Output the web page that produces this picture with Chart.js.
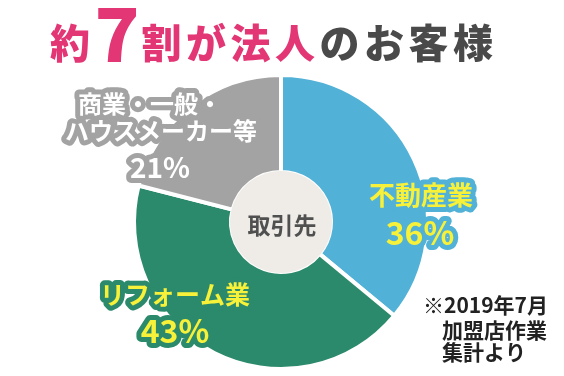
<!DOCTYPE html>
<html>
<head>
<meta charset="utf-8">
<script src="https://cdn.jsdelivr.net/npm/chart.js@4.4.0/dist/chart.umd.min.js"></script>
<style>
  html, body { margin: 0; padding: 0; background: #fff; }
</style>
</head>
<body>
<canvas id="myPieChart" width="564" height="376"></canvas>
<script>
// data
var categories = ['不動産業', 'リフォーム業', '商業・一般・ハウスメーカー等'];
var shares = [36, 43, 21];
var sliceColors = ['#52b1d6', '#2b8a6b', '#a3a3a3'];
var labelLines = [['不動産業'], ['リフォーム業'], ['商業・一般・', 'ハウスメーカー等']];
var labelColors = ['#f7f13a', '#f7f13a', '#ffffff'];
var centerText = '取引先';
var noteLines = ['※2019年7月', '加盟店作業', '集計より'];

// label layout: offsets from pie centre for each line, last one is the percentage
var labelLayout = [
    { lines: [[140, -27, 26]], pct: [139, 11, 32] },
    { lines: [[-106, 72, 25]], pct: [-106, 109, 32] },
    { lines: [[-131, -118, 24], [-120, -91, 24]], pct: [-121, -55, 28] }
];

var JP = '"Noto Sans CJK JP", "Noto Sans", sans-serif';

function haloText(ctx, text, x, y, size, fill, halo) {
    ctx.font = 'bold ' + size + 'px ' + JP;
    ctx.textAlign = 'center';
    ctx.textBaseline = 'middle';
    ctx.lineJoin = 'round';
    ctx.lineWidth = 10;
    ctx.strokeStyle = halo;
    ctx.strokeText(text, x, y);
    ctx.fillStyle = fill;
    ctx.fillText(text, x, y);
}

var decorations = {
    id: 'decorations',
    afterDraw: function(chart) {
        var ctx = chart.ctx;
        var arc = chart.getDatasetMeta(0).data[0];
        var cx = arc.x, cy = arc.y;
        ctx.save();

        // title
        var parts = [
            ['約', 40, '#e33674'], ['7', 74, '#e33674'], ['割', 40, '#e33674'],
            ['が', 40, '#e33674'], ['法', 40, '#e33674'], ['人', 40, '#e33674'],
            ['の', 40, '#4a4a4a'], ['お', 40, '#4a4a4a'], ['客', 40, '#4a4a4a'], ['様', 40, '#4a4a4a']
        ];
        var x = 50;
        ctx.textAlign = 'left';
        ctx.textBaseline = 'alphabetic';
        parts.forEach(function(p) {
            ctx.font = (p[0] === '7' ? '900 ' : '900 ') + p[1] + 'px ' + JP;
            ctx.fillStyle = p[2];
            ctx.fillText(p[0], x, p[0] === '7' ? 62 : 58);
            x += ctx.measureText(p[0]).width + (p[0] === '7' ? 2 : 4.5);
        });

        // centre circle
        ctx.beginPath();
        ctx.arc(cx, cy, 51, 0, Math.PI * 2);
        ctx.fillStyle = '#efece8';
        ctx.fill();
        ctx.font = 'bold 23px ' + JP;
        ctx.fillStyle = '#505050';
        ctx.textAlign = 'center';
        ctx.textBaseline = 'middle';
        ctx.fillText(centerText, cx + 1, cy + 3);

        // slice labels
        labelLayout.forEach(function(l, i) {
            l.lines.forEach(function(p, j) {
                haloText(ctx, labelLines[i][j], cx + p[0], cy + p[1], p[2], labelColors[i], sliceColors[i]);
            });
            haloText(ctx, shares[i] + '%', cx + l.pct[0], cy + l.pct[1], l.pct[2], labelColors[i], sliceColors[i]);
        });

        // note
        ctx.font = 'bold 21px ' + JP;
        ctx.fillStyle = '#222222';
        ctx.textAlign = 'left';
        ctx.textBaseline = 'middle';
        ctx.fillText(noteLines[0], 423, 305);
        ctx.fillText(noteLines[1], 442, 330);
        ctx.fillText(noteLines[2], 442, 352);

        ctx.restore();
    }
};

var ctx = document.getElementById('myPieChart').getContext('2d');
var myPieChart = new Chart(ctx, {
    type: 'doughnut',
    data: {
        labels: categories,
        datasets: [{
            data: shares,
            backgroundColor: sliceColors,
            borderColor: '#ffffff',
            borderWidth: 4
        }]
    },
    options: {
        responsive: false,
        animation: false,
        cutout: 50,
        layout: { padding: { top: 73, bottom: 5, left: 132, right: 134 } },
        plugins: {
            legend: { display: false },
            tooltip: { enabled: false }
        }
    },
    plugins: [decorations]
});
</script>
</body>
</html>
